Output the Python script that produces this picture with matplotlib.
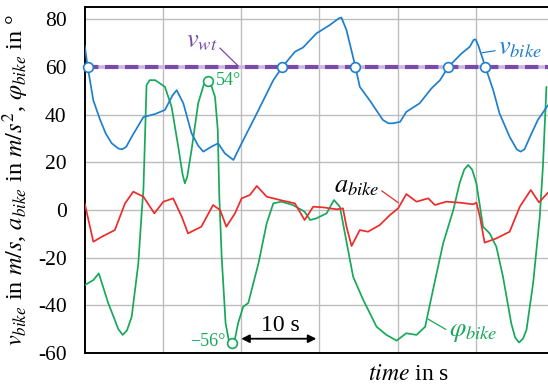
import matplotlib
matplotlib.use("Agg")
import matplotlib.pyplot as plt

plt.rcParams['font.family'] = ['Liberation Serif', 'DejaVu Serif']
plt.rcParams['mathtext.fontset'] = 'stix'

# ---- data ----
t_v = [0.0, 0.38, 1.1, 1.95, 2.7, 3.45, 4.3, 4.8, 5.3, 6.0, 7.5, 9.0, 10.25, 11.2, 11.75, 12.6, 13.65,
       14.5, 15.15, 16.2, 17.05, 17.9, 19.0, 20.05, 22.0, 24.1, 25.25, 26.85, 27.9, 29.6, 31.3,
       32.5, 32.8, 33.45, 34.6, 35.15, 36.4, 38.1, 38.8, 39.4, 40.3, 41.1, 42.8, 44.3, 45.4,
       46.45, 48.15, 49.2, 49.7, 49.95, 50.3, 51.2, 52.2, 53.0, 54.3, 55.2, 55.7, 56.2, 56.9,
       57.9, 59.2]
v_bike = [69, 60, 46, 38, 32, 28, 25.8, 25.5, 26.5, 30.7, 39, 40.3, 42, 48, 50.3, 44.8, 32.2,
          27, 24.5, 26.6, 28, 23.8, 21, 28, 40.6, 54.5, 60, 66.4, 68.2, 74.1, 77.6,
          80.5, 80.8, 75.5, 60, 51.7, 46.1, 37.8, 36.4, 36.4, 37, 41.2, 44.8, 51, 54.5,
          60, 65.7, 68.5, 71.4, 71.6, 69, 60, 50.3, 40.6, 30.7, 25.5, 24.5, 25.5, 30.7,
          37.8, 44]

t_phi = [0, 1.1, 1.8, 3.0, 4.3, 4.85, 5.4, 6.0, 6.85, 7.3, 7.5, 7.9, 8.3, 9.0, 10.25, 11.1, 11.95,
         12.5, 12.8, 13.1, 13.65, 14.5, 15.2, 15.7, 16.2, 16.65, 17.0, 17.2, 17.5, 18.0, 18.4,
         18.8, 19.2, 19.6, 20.25, 20.9, 22.2, 23.25, 24.1, 25.15, 26.6, 28.1, 28.8, 29.6, 30.9,
         31.85, 32.6, 33.25, 34.3, 35.6, 37.3, 38.55, 39.85, 41.1, 42.4, 43.5, 44.5, 45.8, 47.1,
         47.9, 48.5, 49.0, 49.5, 50.05, 50.9, 51.75, 52.6, 53.45, 54.5, 55.0, 55.5, 56.0, 56.45,
         57.3, 58.15, 58.55, 59.0]
phi_bike = [-31.5, -29.4, -26.6, -39, -50, -52.4, -50.5, -44.8, -22.4, 0, 8.4, 52.4, 54.5, 54.5,
            51.7, 43.3, 26.6, 15, 11.2, 14, 25.2, 44.8, 52.5, 54, 52, 47.5, 33.6, 5.6, -19.6,
            -47.5, -54.5, -56, -54, -47.5, -40.6, -39, -22.4, -5.6, 2.8, 3.5, 2.1, -0.7, -4.2,
            -3.5, -1.4, 4.2, 1.4, -9.8, -28, -37.8, -49, -52.4, -54.8, -51.7, -52.4, -49, -33.6,
            -14, 0, 11.2, 17, 18.9, 17, 11.2, -7, -9.8, -15.4, -28, -47.5, -53.5, -55.6, -54,
            -50.3, -30.7, -2.8, 18.2, 51.7]

t_a = [0, 1.1, 2.2, 3.85, 5.15, 6.2, 7.5, 8.9, 10.05, 11.3, 12.4, 13.2, 14.9, 16.4, 17.3, 18.1,
       19.2, 20.05, 21.1, 22.0, 23.25, 24.95, 26.85, 28.1, 29.2, 30.5, 32.2, 33.0, 33.45, 34.1,
       35.15, 36.2, 37.7, 39.0, 40.05, 41.1, 42.4, 43.9, 44.75, 46.2, 47.9, 49.65, 50.05, 50.5,
       51.1, 52.6, 54.3, 55.6, 57.0, 58.05, 59.2]
a_bike = [2.8, -13.3, -11.2, -8.4, 2.8, 7.7, 5.6, -1.4, 3.5, 4.9, -2.8, -9.8, -7, 2.1, 0, -7,
          -1.4, 4.9, 6.3, 10.1, 5.6, 4.2, 2.8, -4.2, 1.4, 1.1, 0.3, 0.7, -7, -15.1,
          -8.4, -9.1, -6.3, -2.1, 0.7, 6.7, 3.5, 4.9, 2.1, 3.5, 3.1, 2.4, 3.1, -2.8,
          -13.7, -11.9, -9.1, 1.4, 8.4, 3.2, 7.3]

v_wt = 60
t_cross = [0.38, 25.25, 34.6, 46.45, 51.2]
t_phi_max, phi_max = 15.7, 54
t_phi_min, phi_min = 18.8, -56

yticks = [-60, -40, -20, 0, 20, 40, 60, 80]
ytick_labels = ['-60', '-40', '-20', '0', '20', '40', '60', '80']
xgrid = [10, 20, 30, 40, 50]

# ---- colours ----
BLUE = '#1f7fcc'
GREEN = '#17a85a'
RED = '#ee2b2b'
PURPLE = '#7a4aa8'

fig = plt.figure(figsize=(5.48, 3.84), dpi=100)
ax = fig.add_axes([0.1546, 0.0807, 0.8454, 0.9011])
ax.set_xlim(0, 59.2)
ax.set_ylim(-60, 85.2)

ax.set_yticks(yticks)
ax.set_yticklabels(ytick_labels)
ax.set_xticks(xgrid)
ax.set_xticklabels([])
ax.tick_params(axis='both', length=0, labelsize=15.5, pad=13)
ax.grid(True, color='#bdbdbd', linewidth=1.0)
ax.set_axisbelow(True)
for s in ['left', 'bottom', 'top']:
    ax.spines[s].set_linewidth(1.4)
    ax.spines[s].set_color('black')
ax.spines['right'].set_visible(False)

# v_wt reference line
ax.axhline(v_wt, color='#c9b6df', linewidth=2.6, zorder=2)
ax.axhline(v_wt, color=PURPLE, linewidth=3.0, dashes=(3.2, 1.6), zorder=2.1)

kw = dict(linewidth=1.25, solid_joinstyle='round', solid_capstyle='round')
ax.plot(t_phi, phi_bike, color=GREEN, zorder=3, **kw)
ax.plot(t_a, a_bike, color=RED, zorder=3, **kw)
ax.plot(t_v, v_bike, color=BLUE, zorder=4, **kw)

ax.plot(t_cross, [v_wt] * len(t_cross), 'o', markersize=7, markerfacecolor='white',
        markeredgecolor=BLUE, markeredgewidth=1.2, zorder=5, clip_on=False)
ax.plot([t_phi_max, t_phi_min], [phi_max, phi_min], 'o', markersize=7,
        markerfacecolor='white', markeredgecolor=GREEN, markeredgewidth=1.2, zorder=5)

# annotations
ax.annotate(r'$v_{wt}$', xy=(19.6, 60.5), xytext=(14.9, 70.5), color=PURPLE, fontsize=19,
            ha='center', va='center',
            arrowprops=dict(arrowstyle='-', color=PURPLE, lw=0.9, shrinkA=0, shrinkB=0,
                            relpos=(1.0, 0.35)))
ax.text(16.8, 54.2, '54°', color=GREEN, fontsize=13, ha='left', va='center')
ax.text(18.0, -55.3, '\u221256°', color=GREEN, fontsize=13, ha='right', va='center')

ax.annotate(r'$v_{bike}$', xy=(50.8, 66.0), xytext=(55.6, 67.5), color=BLUE, fontsize=19,
            ha='center', va='center',
            arrowprops=dict(arrowstyle='-', color=BLUE, lw=0.9, shrinkA=0, shrinkB=0,
                            relpos=(0.0, 0.45)))
ax.annotate(r'$a_{bike}$', xy=(40.1, 3.0), xytext=(34.7, 9.8), color='black', fontsize=19,
            ha='center', va='center',
            arrowprops=dict(arrowstyle='-', color=RED, lw=0.9, shrinkA=0, shrinkB=0,
                            relpos=(1.0, 0.4)))
ax.annotate(r'$\varphi_{bike}$', xy=(43.9, -45.8), xytext=(49.6, -51.7), color=GREEN,
            fontsize=19, ha='center', va='center',
            arrowprops=dict(arrowstyle='-', color=GREEN, lw=0.9, shrinkA=0, shrinkB=0,
                            relpos=(0.0, 0.6)))

ax.annotate('', xy=(20.0, -54.0), xytext=(29.6, -54.0),
            arrowprops=dict(arrowstyle='<|-|>', color='black', lw=1.3,
                            mutation_scale=12, shrinkA=0, shrinkB=0))
ax.text(25.0, -48.3, '10 s', color='black', fontsize=17, ha='center', va='center')

ax.set_ylabel(r'$v_{bike}$ in $m/s$, $a_{bike}$ in $m/s^2$, $\varphi_{bike}$ in °',
              fontsize=17.5, labelpad=5)
ax.text(0.7, -0.062, r'$time$ in s', transform=ax.transAxes, fontsize=17,
        ha='center', va='center')

fig.savefig('out.png', dpi=100)
